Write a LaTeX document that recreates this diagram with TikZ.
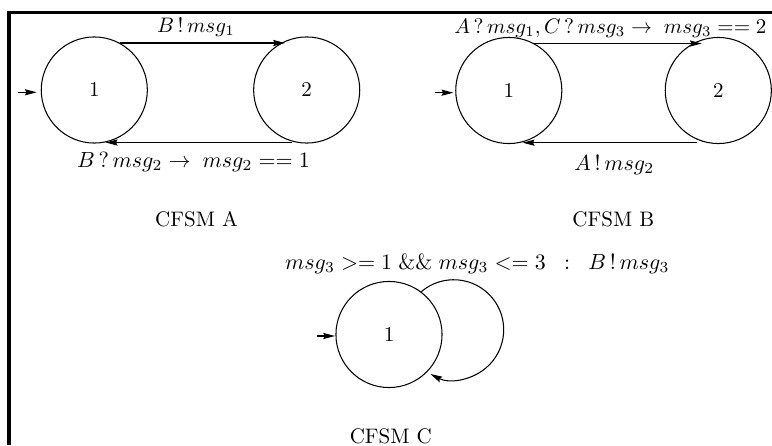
\documentclass[tikz,border=0pt]{standalone}
\usetikzlibrary{arrows.meta,calc}
\newcommand\mlab[1]{\scalebox{1.045}{#1}}
\begin{document}
\begin{tikzpicture}[x=0.476pt,y=0.476pt,
  st/.style={circle,draw,line width=0.5pt,minimum size=50.5pt,inner sep=0pt},
  tr/.style={draw,line width=0.5pt,-{Stealth[length=5.6pt,width=2.9pt,inset=0.7pt]}},
  lbl/.style={inner sep=0pt,anchor=base},
  frame/.style={line width=1.6pt}]
\useasboundingbox (0,0) rectangle (772,445);
\draw[frame] (9,0) |- (772,432.5);
% CFSM A
\node[st] (A1) at (94.3,355) {1};
\node[st] (A2) at (306.7,355) {2};
\draw[tr] ($(A1)+(25.7,47)$) -- ($(A2)+(-21.7,47)$);
\draw[tr] ($(A2)+(-15,-52.5)$) -- ($(A1)+(11.4,-52.5)$);
\coordinate (iA) at (18.3,352.7);
\draw[tr] (iA) -- ++(18.4,0);
\node[lbl] (lA1) at (196,412.7) {$B\,!\,msg_1$};
\node[lbl] (lA2) at (193.5,277.7) {\mlab{$B\,?\,msg_2\rightarrow\; msg_2==1$}};
\node[lbl] (nA) at (196.5,219) {CFSM A};
% CFSM B
\node[st] (B1) at (508.8,354.5) {1};
\node[st] (B2) at (718.3,354.5) {2};
\draw[tr] ($(B1)+(24.2,47)$) -- ($(B2)+(-16.6,47)$);
\draw[tr] ($(B2)+(-21.6,-52.2)$) -- ($(B1)+(13.9,-52.2)$);
\coordinate (iB) at (435,352.3);
\draw[tr] (iB) -- ++(18.3,0);
\node[lbl,anchor=base west] (lB1) at (454,411.7) {$A\,?\,msg_1, C\,?\,msg_3\rightarrow\; msg_3==2$};
\node[lbl] (lB2) at (614.3,274.3) {\mlab{$A\,!\,msg_2$}};
\node[lbl] (nB) at (613.3,219) {CFSM B};
% CFSM C
\node[st] (C1) at (389,110.5) {1};
\draw[tr] (C1.53) arc[start angle=130.5,end angle=-117.7,radius=50];
\coordinate (iC) at (316.7,109);
\draw[tr] (iC) -- ++(18.3,0);
\node[lbl] (lC) at (477.3,176) {\mlab{$msg_3>=1\;\&\&\;msg_3<=3\;\;:\;\;B\,!\,msg_3$}};
\node[lbl] (nC) at (390.8,1.7) {CFSM C};
\end{tikzpicture}
\end{document}
